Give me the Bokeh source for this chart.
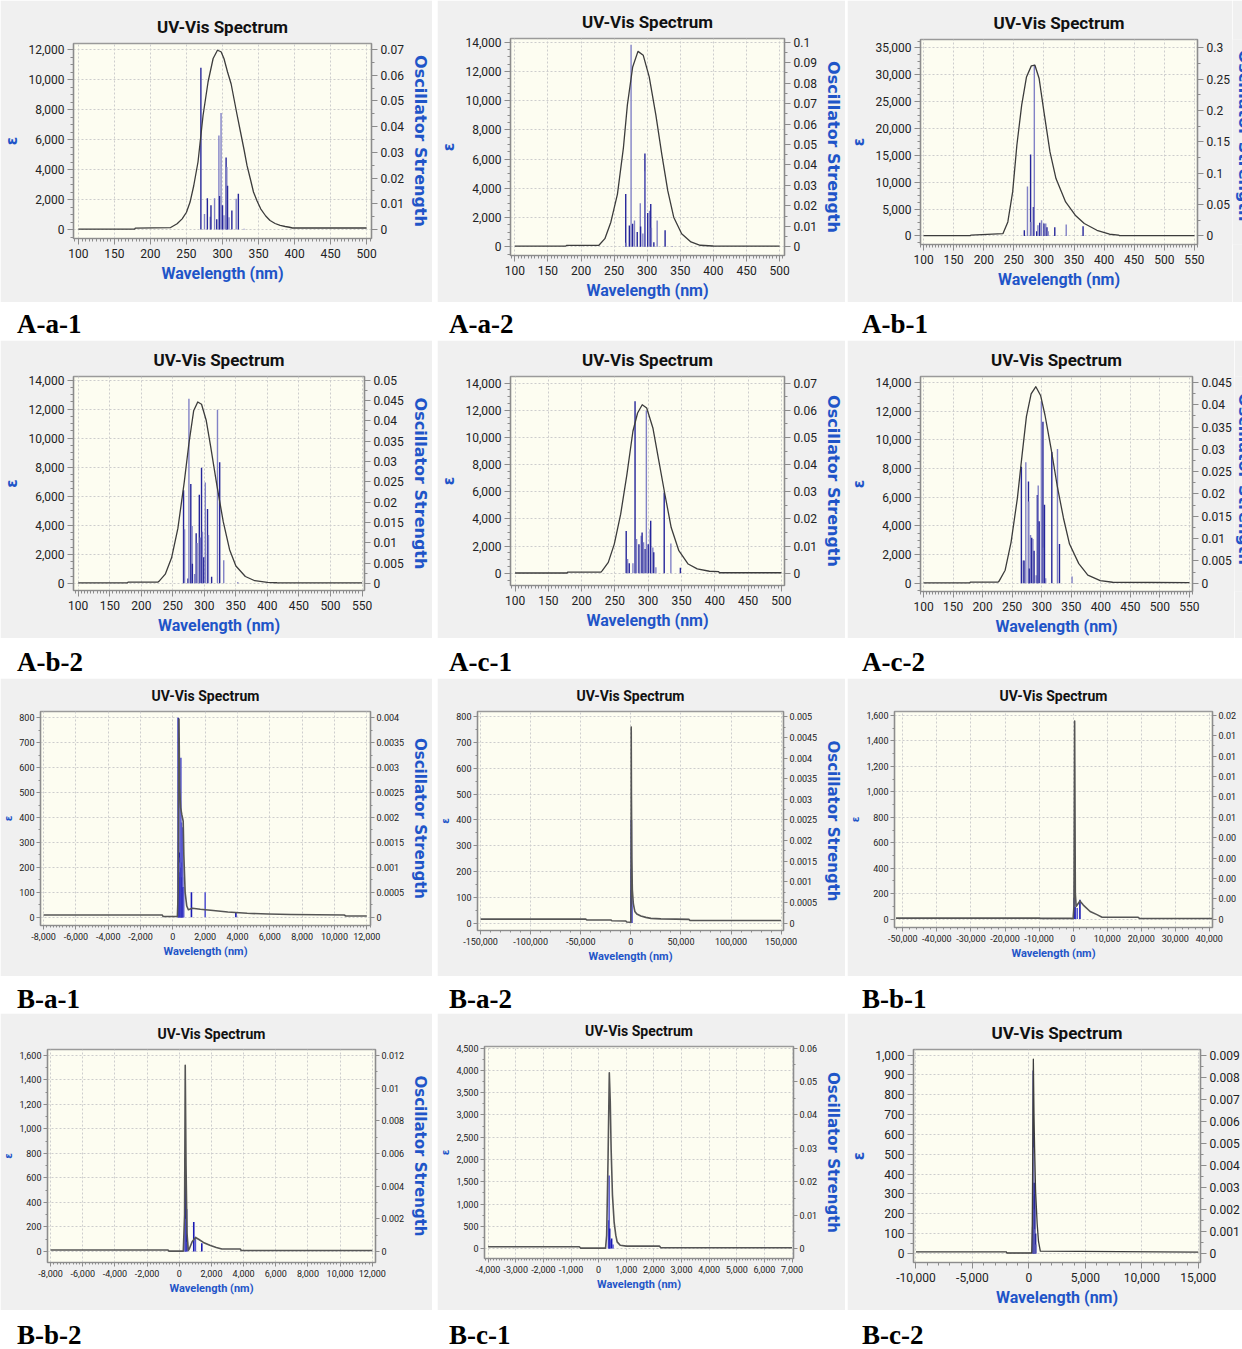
import math
from bokeh.plotting import figure
from bokeh.models import (Range1d, LinearAxis, SingleIntervalTicker, NumeralTickFormatter,
                          CustomJSTickFormatter, Div, Spacer)
from bokeh.core.properties import value
from bokeh.layouts import row, column
from bokeh.embed import file_html
from bokeh.resources import INLINE

TITLE = "UV-Vis Spectrum"
X_LABEL = "Wavelength (nm)"
Y_LABEL = "ε"
Y2_LABEL = "Oscillator Strength"

# ---------------- data ----------------
# A-a-1
aa1_x = [100, 178, 179, 228, 237, 244, 250, 255, 260, 266, 273, 280, 287, 293, 298, 302, 307, 312, 316, 320,
         325, 330, 334, 339, 343, 348, 353, 360, 366, 373, 380, 387, 393, 397, 500]
aa1_y = [20, 20, 90, 130, 380, 710, 1150, 1830, 2900, 4500, 7600, 9850, 11400, 11950, 11850, 11400, 10500, 9700,
         8700, 7700, 6500, 5300, 4270, 3300, 2500, 1900, 1380, 900, 600, 400, 270, 200, 150, 100, 100]
aa1_sx = [270, 275, 279, 283, 284, 289, 292, 295, 296, 298, 300, 302, 305, 306, 307, 309, 313, 319, 322, 330]
aa1_sf = [0.0629, 0.006, 0.0122, 0.005, 0.0094, 0.0122, 0.004, 0.0366, 0.013, 0.0453, 0.0094, 0.0055, 0.028,
          0.0243, 0.017, 0.0048, 0.0074, 0.012, 0.0139, 0.0003]
# A-a-2
aa2_x = [100, 177, 178, 225, 227, 236, 245, 255, 264, 270, 278, 286, 294, 303, 313, 322, 331, 340, 352, 366, 380,
         399, 400, 500]
aa2_y = [50, 50, 100, 100, 110, 560, 1690, 3610, 6770, 9710, 12300, 13370, 13100, 11630, 9030, 6320, 3840, 2030,
         900, 340, 110, 60, 50, 50]
aa2_sx = [267.5, 268, 273, 275.6, 277.9, 280.7, 284.9, 289.5, 290, 293.4, 296.5, 297, 300.7, 303.5, 305.3, 306.3,
          310, 315, 327, 338]
aa2_sf = [0.0258, 0.002, 0.0105, 0.0987, 0.0113, 0.0129, 0.0073, 0.0213, 0.010, 0.0065, 0.0456, 0.037, 0.0165,
          0.0177, 0.021, 0.0094, 0.0023, 0.0129, 0.0081, 0.0003]
# A-b-1
ab1_x = [100, 178, 179, 232, 240, 248, 255, 263, 271, 279, 285, 292, 300, 310, 320, 336, 352, 367, 388, 409, 424,
         425, 550]
ab1_y = [60, 60, 150, 430, 2600, 8190, 16880, 24330, 29600, 31650, 31770, 29290, 23090, 15640, 10670, 6330, 3850,
         2300, 1050, 310, 150, 60, 60]
ab1_sx = [267.4, 272.6, 277.8, 278.3, 282.5, 284, 288, 290, 293, 296, 300, 303, 305, 307, 318, 337, 365]
ab1_sf = [0.009, 0.079, 0.130, 0.022, 0.046, 0.273, 0.0074, 0.017, 0.021, 0.025, 0.0197, 0.0197, 0.014, 0.0074,
          0.014, 0.018, 0.0154]
# A-b-2
ab2_x = [100, 178, 179, 226, 228, 238, 248, 258, 268, 275.5, 283, 289.5, 295.5, 303, 310, 320, 330, 340, 350, 365,
         380, 400, 415, 416, 550]
ab2_y = [30, 30, 80, 80, 135, 630, 1755, 3780, 6930, 9630, 11880, 12490, 12330, 11210, 9410, 6710, 4230, 2320,
         1190, 470, 180, 60, 40, 30, 30]
ab2_sx = [267, 268.6, 274, 275.5, 278.5, 280.5, 281, 284.5, 287, 288.5, 292, 293.5, 295.5, 297, 299, 301.5, 305,
          306.5, 311.5, 320.8, 324.3, 330.7, 353]
ab2_sf = [0.0229, 0.0133, 0.0012, 0.0454, 0.0244, 0.0141, 0.0048, 0.0023, 0.0123, 0.0099, 0.0218, 0.0113, 0.0284,
          0.0127, 0.0064, 0.0248, 0.0183, 0.0119, 0.0016, 0.0427, 0.0298, 0.0057, 0.0002]
# A-c-1
ac1_x = [100, 178, 179, 229, 231, 240, 249, 258.6, 268, 277, 284, 291, 297.7, 307, 316, 325, 334.5, 346, 360,
         373.6, 392, 405.7, 407, 500]
ac1_y = [20, 20, 80, 80, 195, 800, 2150, 4350, 7280, 10460, 11800, 12410, 12170, 10700, 8260, 5820, 3370, 1660,
         680, 320, 150, 120, 40, 40]
ac1_sx = [266.9, 269, 271.5, 277, 280.2, 282.5, 286, 289.4, 290.8, 293, 295.4, 297.2, 300, 302.8, 303.7, 306.9,
          308.3, 311.5, 324, 334, 348.3]
ac1_sf = [0.0156, 0.0053, 0.0037, 0.0037, 0.0633, 0.0126, 0.0107, 0.0138, 0.015, 0.0114, 0.0089, 0.0599, 0.0107,
          0.0162, 0.0193, 0.0095, 0.0077, 0.0022, 0.0297, 0.011, 0.002]
# A-c-2
ac2_x = [100, 178, 179, 226, 227.5, 238, 248, 258.7, 266.5, 274, 282, 290, 298, 305.5, 316, 326, 336.7, 347,
         362.7, 378, 399, 420, 550]
ac2_y = [30, 30, 80, 80, 135, 910, 2850, 5920, 8880, 11610, 13200, 13700, 13090, 11710, 9330, 6830, 4550, 2730,
         1370, 570, 180, 70, 50]
ac2_sx = [265.5, 268.6, 270, 273, 277.5, 277.8, 279, 281, 283, 285, 287, 290.5, 292.5, 294, 295.6, 299.3, 302, 303,
          304.6, 306.6, 317, 326.6, 330, 351.3]
ac2_sf = [0.0261, 0.0051, 0.0051, 0.0271, 0.0228, 0.0183, 0.0033, 0.0108, 0.0102, 0.0099, 0.0073, 0.0018, 0.0198,
          0.0219, 0.0139, 0.0408, 0.0362, 0.008, 0.0176, 0.0011, 0.0294, 0.0301, 0.0088, 0.0015]
# B-a-1
ba1_x = [-8000, -650, -600, 280, 330, 380, 420, 480, 560, 640, 680, 760, 860, 960, 1200, 1700, 2500, 3400, 4600,
         5900, 7300, 10600, 10700, 12000]
ba1_y = [9, 9, 3, 3, 100, 795, 520, 440, 410, 385, 250, 100, 45, 30, 36, 32, 27, 21, 16, 13, 11, 9, 5, 5]
ba1_sx = [330, 345, 360, 380, 400, 420, 440, 460, 480, 497, 520, 535, 555, 573, 590, 612, 640, 670, 1150, 2000, 3900]
ba1_sf = [0.0040, 0.0015, 0.0011, 0.0024, 0.0013, 0.0011, 0.0009, 0.0012, 0.0008, 0.0032, 0.0010, 0.0019, 0.0011,
          0.0018, 0.0008, 0.0018, 0.0006, 0.0006, 0.0005, 0.0005, 0.0001]
# B-a-2
ba2_x = [-150000, -45000, -44000, -20000, -19000, -5000, -4000, 0, 300, 400, 600, 1000, 1500, 2500, 4000, 6000,
         10000, 15000, 20000, 30000, 45000, 58000, 59000, 150000]
ba2_y = [15, 15, 12, 12, 9, 8, 4, 3, 100, 760, 500, 250, 130, 75, 45, 35, 27, 22, 18, 16, 15, 14, 10, 10]
ba2_sx = [350, 450, 520, 600, 700, 900]
ba2_sf = [0.0008, 0.0013, 0.0025, 0.0010, 0.0008, 0.0004]
# B-b-1
bb1_x = [-52000, -10000, -9500, -500, 0, 250, 450, 650, 900, 1300, 2000, 3000, 5000, 7000, 8500, 19000, 19500, 41000]
bb1_y = [8, 8, 6, 6, 3, 100, 1555, 200, 100, 115, 143, 110, 60, 35, 15, 15, 5, 5]
bb1_sx = [350, 450, 550, 1200, 2000]
bb1_sf = [0.0021, 0.0034, 0.0012, 0.0011, 0.0019]
# B-b-2
bb2_x = [-8000, -700, -650, 250, 330, 370, 420, 480, 560, 620, 800, 1010, 1200, 1500, 1900, 2300, 2650, 3800, 3850,
         12000]
bb2_y = [12, 12, 3, 3, 300, 1520, 700, 150, 10, 20, 80, 114, 100, 74, 50, 33, 20, 20, 8, 8]
bb2_sx = [370, 390, 450, 500, 900, 1000, 1400]
bb2_sf = [0.0044, 0.0020, 0.0026, 0.0006, 0.0018, 0.0009, 0.0005]
# B-c-1
bc1_x = [-4000, -700, -650, 250, 290, 340, 386, 420, 452, 500, 560, 620, 670, 780, 1000, 2200, 2250, 7000]
bc1_y = [40, 40, 10, 10, 300, 2000, 3950, 3300, 2230, 1200, 595, 300, 150, 74, 55, 55, 20, 20]
bc1_sx = [360, 380, 400, 430, 470, 520]
bc1_sf = [0.0085, 0.0219, 0.0060, 0.0025, 0.0030, 0.0012]
# B-c-2
bc2_x = [-10000, -2000, -1950, 250, 300, 393, 450, 505, 590, 730, 850, 1010, 15000]
bc2_y = [8, 8, 2, 2, 150, 979, 700, 528, 315, 151, 60, 11, 6]
bc2_sx = [330, 360, 380, 400, 420, 440, 470, 500, 530, 560, 600, 650]
bc2_sf = [0.0012, 0.0030, 0.0083, 0.0045, 0.0026, 0.0048, 0.0032, 0.0020, 0.0027, 0.0011, 0.0009, 0.0004]

# ---------------- styles ----------------
YEL = "#fdfdf1"
PANEL = "#f0f0f0"
BLUE = "#1f55c8"
AXC = "#8c8c8c"
SANS = "Roboto"
WIDE = "DejaVu Sans"

STYLE = {
    "A": dict(title_size="17px", tick_size="12px", xlab_size="16px", vlab_size="16px", eps_size="15px",
              tick_out=6, minor_out=3, lab_standoff=3, xlab_standoff=4, xaxis_standoff=3, eps_standoff=4,
              title_standoff=14, curve_color="#3c3c3c", curve_w=1.3,
              stick_w=1.4, stick_colors=("#26269a", "#8282c6")),
    "B": dict(title_size="14px", tick_size="9px", xlab_size="11px", vlab_size="15px", eps_size="10px",
              tick_out=4, minor_out=2, lab_standoff=2, xlab_standoff=3, xaxis_standoff=2, eps_standoff=2,
              title_standoff=15, curve_color="#555555", curve_w=1.6,
              stick_w=1.6, stick_colors=("#1a1ab4", "#5a5ad0")),
}

FMT_R = "return String(+tick.toFixed(6));"
FMT_TRUNC = "if (Math.abs(tick) < 1e-12) return '0'; return String(+tick.toFixed(6)).slice(0, 4);"

panels = [
    dict(name="A-a-1", data=(aa1_x, aa1_y, aa1_sx, aa1_sf), style="A", L=68, R=60, T=43, B=64,
         xr=(93.2, 506.8), yr=(-600, 12400), ymax=12000, fmax=0.07, xstep=50, xminor=10, ystep=2000, yminor=4,
         fstep=0.01, rlabel="axis"),
    dict(name="A-a-2", data=(aa2_x, aa2_y, aa2_sx, aa2_sf), style="A", L=61, R=50, T=38, B=45,
         xr=(93.4, 507.4), yr=(-590, 14250), ymax=14000, fmax=0.1, xstep=50, xminor=10, ystep=2000, yminor=4,
         fstep=0.01, rlabel="axis"),
    dict(name="A-b-1", data=(ab1_x, ab1_y, ab1_sx, ab1_sf), style="A", L=59, R=41, T=39, B=58,
         xr=(94.9, 555.1), yr=(-1600, 36560), ymax=35000, fmax=0.3, xstep=50, xminor=10, ystep=5000, yminor=4,
         fstep=0.05, rlabel="clip", strip=10),
    dict(name="A-b-2", data=(ab2_x, ab2_y, ab2_sx, ab2_sf), style="A", L=69, R=54, T=32, B=48,
         xr=(92.5, 553.9), yr=(-493, 14243), ymax=14000, fmax=0.05, xstep=50, xminor=10, ystep=2000, yminor=4,
         fstep=0.005, rlabel="axis"),
    dict(name="A-c-1", data=(ac1_x, ac1_y, ac1_sx, ac1_sf), style="A", L=58, R=51, T=35, B=53,
         xr=(93.1, 504.7), yr=(-900, 14490), ymax=14000, fmax=0.07, xstep=50, xminor=10, ystep=2000, yminor=4,
         fstep=0.01, rlabel="axis"),
    dict(name="A-c-2", data=(ac2_x, ac2_y, ac2_sx, ac2_sf), style="A", L=58, R=42, T=32, B=46,
         xr=(94.7, 555.2), yr=(-574, 14410), ymax=14000, fmax=0.045, xstep=50, xminor=10, ystep=2000, yminor=4,
         fstep=0.005, rlabel="clip", strip=8),
    dict(name="B-a-1", data=(ba1_x, ba1_y, ba1_sx, ba1_sf), style="B", L=36, R=40, T=33, B=51,
         xr=(-8190, 12230), yr=(-33, 825), ymax=800, fmax=0.004, xstep=2000, xminor=10, ystep=100, yminor=2,
         fstep=0.0005, rlabel="axis"),
    dict(name="B-a-2", data=(ba2_x, ba2_y, ba2_sx, ba2_sf), style="B", L=33, R=45, T=29, B=46,
         xr=(-153050, 152400), yr=(-29, 820.6), ymax=800, fmax=0.005, xstep=50000, xminor=5, ystep=100, yminor=2,
         fstep=0.0005, rlabel="axis"),
    dict(name="B-b-1", data=(bb1_x, bb1_y, bb1_sx, bb1_sf), style="B", L=33, R=30, T=31, B=49,
         xr=(-52450, 40930), yr=(-66, 1631), ymax=1600, fmax=0.02, xstep=10000, xminor=5, ystep=200, yminor=2,
         fstep=0.002, rlabel="none", trunc=True),
    dict(name="B-b-2", data=(bb2_x, bb2_y, bb2_sx, bb2_sf), style="B", L=43, R=40, T=36, B=48,
         xr=(-8193, 12199), yr=(-90, 1649), ymax=1600, fmax=0.012, xstep=2000, xminor=10, ystep=200, yminor=2,
         fstep=0.002, rlabel="axis"),
    dict(name="B-c-1", data=(bc1_x, bc1_y, bc1_sx, bc1_sf), style="B", L=37, R=30, T=32, B=52,
         xr=(-4131, 7052), yr=(-223, 4538), ymax=4500, fmax=0.06, xstep=1000, xminor=10, ystep=500, yminor=2,
         fstep=0.01, rlabel="axis"),
    dict(name="B-c-2", data=(bc2_x, bc2_y, bc2_sx, bc2_sf), style="A", L=57, R=37, T=30, B=48,
         xr=(-10219, 15194), yr=(-46, 1028), ymax=1000, fmax=0.009, xstep=5000, xminor=5, ystep=100, yminor=2,
         fstep=0.001, rlabel="none"),
]

ROW_H = [302, 298, 298, 297]
LAB_H = [38, 40, 37, 39]
LAB_PAD_TOP = [9, 11, 10, 12]
LAB_PAD_LEFT = [17, 12, 15]
COL_W = [432, 408, 395]
GAPS = [5, 2]


def style_axis(ax, st):
    ax.axis_line_color = AXC
    ax.axis_line_width = 1.2
    ax.major_tick_line_color = AXC
    ax.minor_tick_line_color = AXC
    ax.major_tick_in = 0
    ax.major_tick_out = st["tick_out"]
    ax.minor_tick_in = 0
    ax.minor_tick_out = st["minor_out"]
    ax.major_label_text_font = SANS
    ax.major_label_text_font_size = st["tick_size"]
    ax.major_label_text_color = "#222222"
    ax.major_label_standoff = st["lab_standoff"]
    ax.axis_label_text_color = BLUE
    ax.axis_label_text_font_style = "bold"


def make_panel(cfg, W, H):
    st = STYLE[cfg["style"]]
    cx, cy, sx, sf = cfg["data"]
    strip = cfg.get("strip", 0)
    Wm = W - strip
    p = figure(width=Wm, height=H, x_range=Range1d(*cfg["xr"]), y_range=Range1d(*cfg["yr"]),
               output_backend="svg", toolbar_location=None,
               min_border_left=cfg["L"], min_border_right=cfg["R"] - strip,
               min_border_top=cfg["T"], min_border_bottom=cfg["B"],
               background_fill_color=YEL, border_fill_color=PANEL,
               outline_line_color="#9a9a9a", outline_line_width=1.5)
    p.title.text = TITLE
    p.title.align = "center"
    p.title.text_font = SANS
    p.title.text_font_size = st["title_size"]
    p.title.text_font_style = "bold"
    p.title.text_color = "#111111"
    p.title.standoff = st["title_standoff"]

    k = cfg["fmax"] / cfg["ymax"]
    p.extra_y_ranges = {"osc": Range1d(cfg["yr"][0] * k, cfg["yr"][1] * k)}

    xa = p.xaxis[0]
    ya = p.yaxis[0]
    xa.ticker = SingleIntervalTicker(interval=cfg["xstep"], num_minor_ticks=cfg["xminor"])
    ya.ticker = SingleIntervalTicker(interval=cfg["ystep"], num_minor_ticks=cfg["yminor"])
    xa.formatter = NumeralTickFormatter(format="0,0")
    ya.formatter = NumeralTickFormatter(format="0,0")
    ra = LinearAxis(y_range_name="osc",
                    ticker=SingleIntervalTicker(interval=cfg["fstep"], num_minor_ticks=2),
                    formatter=CustomJSTickFormatter(code=FMT_TRUNC if cfg.get("trunc") else FMT_R))
    p.add_layout(ra, "right")

    for ax in (xa, ya, ra):
        style_axis(ax, st)
    xa.major_label_standoff = st["xlab_standoff"]
    xa.axis_label = X_LABEL
    xa.axis_label_text_font = SANS
    xa.axis_label_text_font_size = st["xlab_size"]
    xa.axis_label_standoff = st["xaxis_standoff"]
    ya.axis_label = Y_LABEL
    ya.axis_label_text_font = WIDE
    ya.axis_label_text_font_size = st["eps_size"]
    ya.axis_label_standoff = st["eps_standoff"]
    if cfg["rlabel"] == "axis":
        ra.axis_label = Y2_LABEL
        ra.axis_label_text_font = WIDE
        ra.axis_label_text_font_size = st["vlab_size"]
        ra.axis_label_standoff = 4

    for g in (p.xgrid[0], p.ygrid[0]):
        g.grid_line_color = "#cdcdcd"
        g.grid_line_dash = "2 2"
        g.grid_line_width = 1

    colors = [st["stick_colors"][i % 2] for i in range(len(sx))]
    p.segment(x0=sx, y0=[0] * len(sx), x1=sx, y1=sf, y_range_name="osc",
              line_color=colors, line_width=st["stick_w"])
    p.line(cx, cy, line_color=st["curve_color"], line_width=st["curve_w"], line_join="round")

    if not strip:
        return column(p)
    # narrow strip holding the right-axis title that is cut by the picture's edge
    s = figure(width=strip, height=H, x_range=Range1d(0, strip), y_range=Range1d(0, H),
               output_backend="svg", toolbar_location=None, x_axis_location=None, y_axis_location=None,
               min_border=0, background_fill_color=PANEL, border_fill_color=PANEL, outline_line_color=None)
    s.grid.visible = False
    fh = H - cfg["T"] - cfg["B"]
    s.text(x=[strip + 2], y=[H - cfg["T"] - fh / 2], text=[Y2_LABEL], angle=-math.pi / 2,
           text_align="center", text_baseline="middle", text_font=value(WIDE),
           text_font_size=value(st["vlab_size"]), text_font_style="bold", text_color=BLUE)
    return column(row(p, s))


def label_div(text, width, height, pad_top, pad_left):
    html = ('<div style="padding:%dpx 0 0 %dpx;font-family:\'Liberation Serif\',\'Times New Roman\',serif;'
            'font-weight:bold;font-size:27px;line-height:1;color:#000;white-space:nowrap">%s</div>'
            % (pad_top, pad_left, text))
    return Div(text=html, width=width, height=height, margin=0)


blocks = []
for r in range(4):
    cfgs = panels[3 * r: 3 * r + 3]
    H = ROW_H[r]
    cells = [make_panel(c, COL_W[i], H) for i, c in enumerate(cfgs)]
    blocks.append(row(cells[0], Spacer(width=GAPS[0], height=H), cells[1],
                      Spacer(width=GAPS[1], height=H), cells[2]))
    lh = LAB_H[r]
    divs = [label_div(c["name"], COL_W[i], lh, LAB_PAD_TOP[r], LAB_PAD_LEFT[i]) for i, c in enumerate(cfgs)]
    blocks.append(row(divs[0], Spacer(width=GAPS[0], height=lh), divs[1],
                      Spacer(width=GAPS[1], height=lh), divs[2]))

layout = column(*blocks)

with open("out.html", "w") as f:
    f.write(file_html(layout, INLINE, title="UV-Vis Spectra"))
